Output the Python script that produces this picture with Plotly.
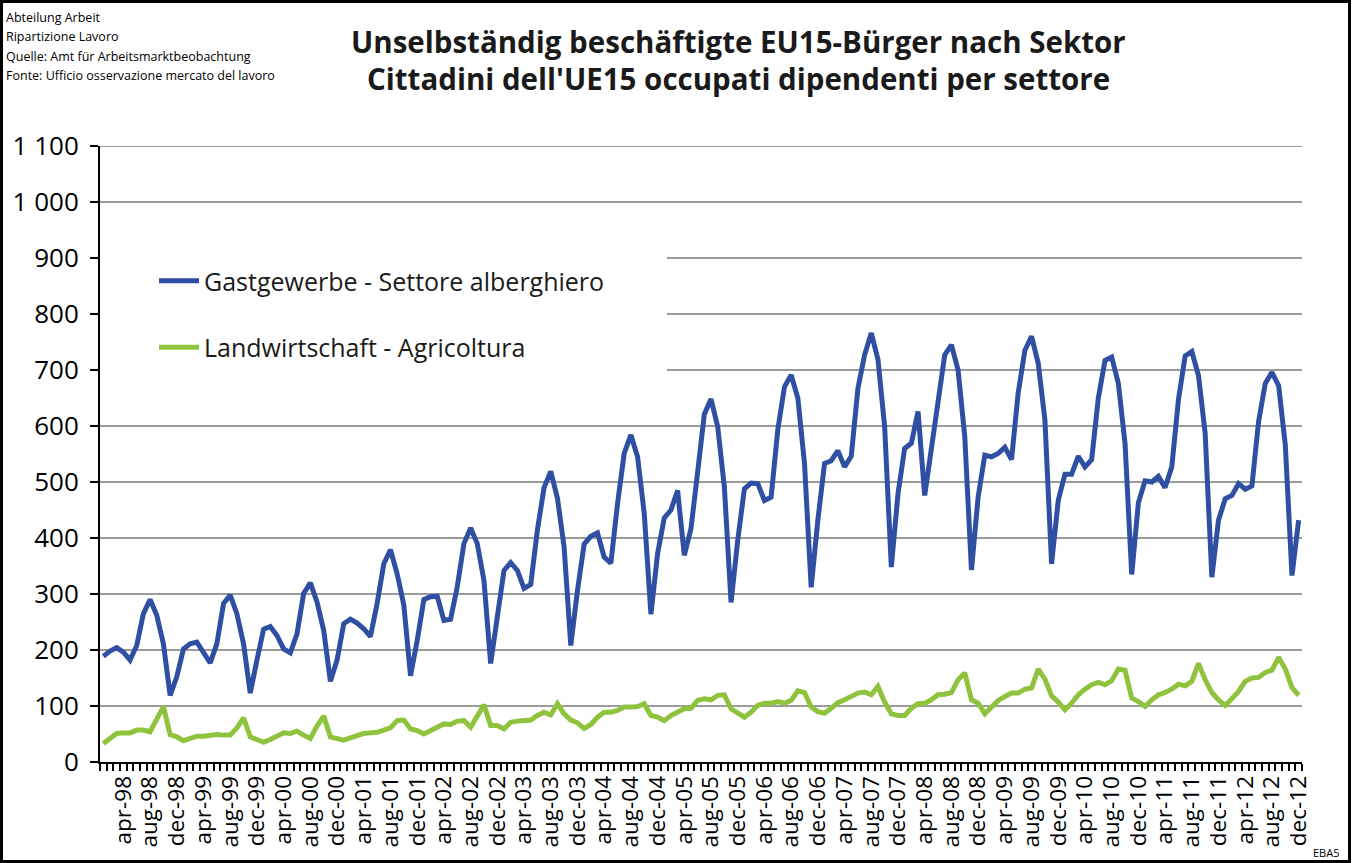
import plotly.graph_objects as go

# Monthly categories jan-98 ... dec-12
month_abbr = ["jan", "feb", "mar", "apr", "mai", "jun", "jul", "aug", "sep", "oct", "nov", "dec"]
years = ["98", "99", "00", "01", "02", "03", "04", "05", "06", "07", "08", "09", "10", "11", "12"]
months = [f"{m}-{y}" for y in years for m in month_abbr]

# Labels shown on the category axis (every fourth month)
tick_labels = [
    "apr-98", "aug-98", "dec-98", "apr-99", "aug-99", "dec-99", "apr-00", "aug-00", "dec-00",
    "apr-01", "aug-01", "dec-01", "apr-02", "aug-02", "dec-02", "apr-03", "aug-03", "dec-03",
    "apr-04", "aug-04", "dec-04", "apr-05", "aug-05", "dec-05", "apr-06", "aug-06", "dec-06",
    "apr-07", "aug-07", "dec-07", "apr-08", "aug-08", "dec-08", "apr-09", "aug-09", "dec-09",
    "apr-10", "aug-10", "dec-10", "apr-11", "aug-11", "dec-11", "apr-12", "aug-12", "dec-12",
]

gastgewerbe = [
    189, 198, 204, 196, 182, 208, 265, 290, 262, 211, 119, 152,
    202, 211, 214, 196, 177, 211, 283, 298, 265, 211, 123, 182,
    237, 242, 226, 202, 195, 229, 301, 320, 286, 235, 144, 182,
    247, 255, 248, 238, 224, 283, 354, 379, 336, 280, 154, 217,
    290, 295, 296, 253, 255, 313, 390, 418, 390, 324, 176, 259,
    342, 356, 342, 310, 317, 414, 490, 519, 471, 384, 208, 306,
    389, 403, 409, 366, 355, 461, 551, 584, 545, 444, 264, 372,
    436, 450, 485, 369, 417, 518, 621, 648, 599, 491, 285, 396,
    488, 498, 497, 467, 473, 593, 670, 691, 650, 533, 312, 432,
    533, 538, 556, 527, 546, 667, 727, 766, 719, 599, 348, 479,
    560, 569, 626, 476, 563, 650, 727, 745, 700, 581, 343, 473,
    548, 545, 551, 562, 540, 659, 735, 760, 712, 611, 354, 467,
    514, 514, 546, 527, 540, 650, 717, 723, 676, 569, 335, 463,
    502, 500, 510, 490, 527, 647, 725, 733, 690, 587, 330, 432,
    470, 476, 497, 487, 493, 608, 676, 696, 672, 566, 333, 432,
]

landwirtschaft = [
    33, 42, 51, 52, 52, 57, 57, 54, 79, 99, 49, 45,
    38, 43, 46, 46, 48, 49, 48, 48, 61, 79, 45, 40,
    35, 40, 46, 52, 51, 55, 48, 42, 64, 82, 45, 41,
    39, 43, 47, 51, 52, 53, 57, 61, 74, 75, 59, 56,
    50, 55, 62, 68, 67, 73, 74, 62, 83, 102, 65, 65,
    59, 71, 73, 75, 75, 83, 89, 84, 104, 86, 75, 70,
    60, 67, 80, 89, 89, 92, 98, 98, 99, 104, 83, 80,
    74, 83, 89, 95, 96, 110, 113, 111, 119, 120, 95, 87,
    80, 89, 101, 105, 105, 108, 105, 110, 127, 124, 98, 90,
    87, 96, 106, 111, 117, 123, 125, 120, 135, 107, 86, 83,
    83, 96, 104, 105, 111, 120, 121, 124, 147, 159, 111, 105,
    86, 99, 110, 117, 123, 123, 130, 132, 166, 148, 118, 107,
    93, 105, 120, 130, 138, 142, 138, 145, 166, 164, 114, 108,
    99, 111, 120, 124, 130, 139, 136, 144, 176, 147, 124, 111,
    101, 113, 126, 144, 150, 151, 160, 164, 187, 166, 133, 119,
]

series_names = ["Gastgewerbe - Settore alberghiero", "Landwirtschaft - Agricoltura"]
source_lines = [
    "Abteilung Arbeit",
    "Ripartizione Lavoro",
    "Quelle: Amt für Arbeitsmarktbeobachtung",
    "Fonte: Ufficio osservazione mercato del lavoro",
]
title_lines = [
    "Unselbständig beschäftigte EU15-Bürger nach Sektor",
    "Cittadini dell'UE15 occupati dipendenti per settore",
]

Y_MAX, Y_STEP = 1100, 100

W, H = 1358, 863
L, R, T, B = 100, 56, 146, 101
FONT = "Open Sans"
BLUE = "#2F50A2"
GREEN = "#8FC33E"
GRID = "#7a7a7a"


def px_x(px):
    return (px - L) / (W - L - R)


def px_y(py):
    return (H - B - py) / (H - T - B)


# every month gets a boundary tick, only every fourth month a label
label_set = set(tick_labels)
tick_text = [m if m in label_set else "" for m in months]

fig = go.Figure()
fig.add_trace(go.Scatter(
    x=months, y=gastgewerbe, mode="lines", name=series_names[0],
    line=dict(color=BLUE, width=5), legendgroup="a",
))
fig.add_trace(go.Scatter(
    x=months, y=landwirtschaft, mode="lines", name=series_names[1],
    line=dict(color=GREEN, width=5), legendgroup="b",
))

annotations = []
for k, line in enumerate(source_lines):
    annotations.append(dict(
        text=line, xref="paper", yref="paper", x=px_x(4), y=px_y(18 + 19 * k),
        xanchor="left", yanchor="middle", showarrow=False,
        font=dict(family=FONT, size=12.5, color="black"),
    ))
for k, line in enumerate(title_lines):
    annotations.append(dict(
        text=f"<b>{line}</b>", xref="paper", yref="paper", x=px_x(738), y=px_y(41 + 38 * k),
        xanchor="center", yanchor="middle", showarrow=False,
        font=dict(family=FONT, size=29.5, color="#1a1a1a"),
    ))
annotations.append(dict(
    text="EBA5", xref="paper", yref="paper", x=px_x(1341), y=px_y(852),
    xanchor="right", yanchor="middle", showarrow=False,
    font=dict(family=FONT, size=11, color="black"),
))

shapes = []
# horizontal grid; the lines behind the legend start right of it
for v in range(Y_STEP, Y_MAX + 1, Y_STEP):
    x_start = px_x(667) if 700 <= v <= 900 else 0
    shapes.append(dict(
        type="line", xref="paper", yref="y", x0=x_start, x1=1, y0=v, y1=v,
        line=dict(color=GRID, width=1.5), layer="below",
    ))
# outer frame
shapes.append(dict(
    type="rect", xref="paper", yref="paper", x0=px_x(1.5), x1=px_x(1349.5),
    y0=px_y(861.5), y1=px_y(1.5), line=dict(color="black", width=3),
    fillcolor="rgba(0,0,0,0)", layer="above",
))

fig.update_layout(
    width=W, height=H,
    margin=dict(l=L, r=R, t=T, b=B, pad=0),
    paper_bgcolor="white", plot_bgcolor="white",
    separators=", ",
    font=dict(family=FONT, color="black"),
    showlegend=True,
    legend=dict(
        x=px_x(154), y=px_y(258), xanchor="left", yanchor="top",
        bgcolor="rgba(0,0,0,0)", borderwidth=0,
        font=dict(family=FONT, size=25, color="#1a1a1a"),
        traceorder="grouped", tracegroupgap=31, itemwidth=40,
    ),
    annotations=annotations,
    shapes=shapes,
    xaxis=dict(
        type="category", categoryorder="array", categoryarray=months,
        range=[-0.5, len(months) - 0.5],
        tickmode="array", tickvals=months, ticktext=tick_text,
        tickson="boundaries", ticks="outside", ticklen=7, tickwidth=2, tickcolor="black",
        tickangle=-90, tickfont=dict(family=FONT, size=22.5, color="black"),
        ticklabelstandoff=3,
        showline=True, linecolor="black", linewidth=2,
        showgrid=False, zeroline=False,
    ),
    yaxis=dict(
        range=[0, Y_MAX], dtick=Y_STEP, tick0=0, tickformat=",d",
        ticks="outside", ticklen=8, tickwidth=2, tickcolor="black",
        tickfont=dict(family=FONT, size=26, color="black"),
        ticklabelstandoff=6,
        showline=True, linecolor="black", linewidth=2,
        showgrid=False, zeroline=False,
    ),
)

fig.write_html("out.html")
